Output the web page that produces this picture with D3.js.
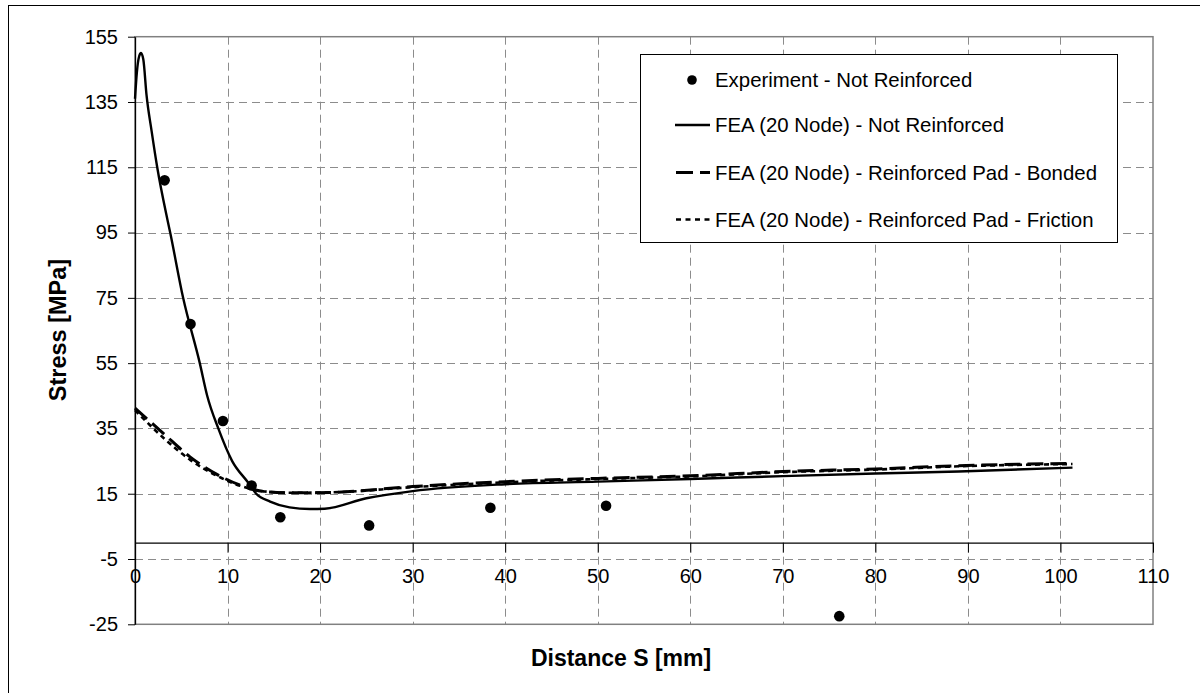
<!DOCTYPE html>
<html>
<head>
<meta charset="utf-8">
<script src="https://cdn.jsdelivr.net/npm/d3@7"></script>
<style>
  html, body { margin: 0; padding: 0; background: #fff; }
  svg { display: block; font-family: "Liberation Sans", Arial, sans-serif; }
</style>
</head>
<body>
<svg id="chart" width="1200" height="693"></svg>
<script>
// Measured stress along distance S from the nozzle edge
const expDistance = [3.2, 6.0, 9.5, 12.6, 15.7, 25.3, 38.4, 50.9, 76.1];
const expStress   = [111, 67, 37.3, 17.5, 7.8, 5.3, 10.7, 11.3, -22.5];

// FEA (20 node) - not reinforced
const feaPlainS      = [0, 0.2, 0.45, 0.65, 0.9, 1.25, 1.8, 2.4, 3.5, 3.8, 5.2, 7.0, 7.8, 9.0, 10.5, 12.2, 13.1, 14.6, 16.7, 18.9, 20.5, 25, 30, 40, 50, 60, 70, 80, 89, 101.3];
const feaPlainStress = [136, 144, 149, 150, 148, 137, 126, 115, 99, 95, 75, 55, 45, 35, 25, 18.5, 15, 12.6, 10.8, 10.3, 10.4, 13.6, 15.8, 17.9, 18.7, 19.5, 20.4, 21.2, 21.8, 23.0];

// FEA (20 node) - reinforced pad, bonded
const feaBondedS      = [0, 3.06, 5.94, 8.8, 11.3, 14.2, 17, 21.1, 30, 40, 50, 60, 70, 80, 89, 101.3];
const feaBondedStress = [41.2, 33.5, 26.3, 21.0, 17.7, 15.6, 15.3, 15.4, 17.2, 18.7, 19.7, 20.5, 21.8, 22.6, 23.6, 24.3];

// FEA (20 node) - reinforced pad, friction
const feaFrictionS      = [0, 3, 6, 9, 11.5, 14, 17, 21, 30, 40, 50, 60, 70, 80, 89, 101.3];
const feaFrictionStress = [40.6, 32.3, 25.3, 20.3, 17.3, 15.7, 15.3, 15.4, 17.0, 18.5, 19.5, 20.3, 21.6, 22.4, 23.4, 24.1];

const xTicks = d3.range(0, 111, 10);
const yTicks = d3.range(-25, 156, 20);

const legendLabels = [
  "Experiment - Not Reinforced",
  "FEA (20 Node) - Not Reinforced",
  "FEA (20 Node) - Reinforced Pad - Bonded",
  "FEA (20 Node) - Reinforced Pad - Friction"
];

const svg = d3.select("#chart");

// outer chart frame
svg.append("rect")
  .attr("x", 8.5).attr("y", 5.5)
  .attr("width", 1210).attr("height", 710)
  .attr("fill", "none").attr("stroke", "#000").attr("stroke-width", 1);

const x = d3.scaleLinear().domain([0, 110]).range([135, 1153]);
const y = d3.scaleLinear().domain([-25, 155]).range([624.3, 36.7]);

// grid
const grid = svg.append("g").attr("stroke", "#8c8c8c").attr("stroke-width", 1)
  .attr("stroke-dasharray", "8,5").attr("fill", "none");
grid.selectAll("line.v").data(xTicks.filter(d => d > 0 && d < 110)).join("line")
  .attr("class", "v")
  .attr("x1", d => Math.round(x(d)) + 0.5).attr("x2", d => Math.round(x(d)) + 0.5)
  .attr("y1", y(155)).attr("y2", y(-25));
grid.selectAll("line.h").data(yTicks.filter(d => d > -25 && d < 155)).join("line")
  .attr("class", "h")
  .attr("y1", d => Math.round(y(d)) + 0.5).attr("y2", d => Math.round(y(d)) + 0.5)
  .attr("x1", x(0)).attr("x2", x(110));

// plot area border
svg.append("rect")
  .attr("x", x(0)).attr("y", y(155))
  .attr("width", x(110) - x(0)).attr("height", y(-25) - y(155))
  .attr("fill", "none").attr("stroke", "#808080").attr("stroke-width", 1.5);

const plainNumber = d => String(d);

// y axis
const yAxis = svg.append("g")
  .attr("transform", `translate(${x(0)},0)`)
  .call(d3.axisLeft(y).tickValues(yTicks).tickSize(7).tickSizeOuter(0).tickPadding(10).tickFormat(plainNumber));
yAxis.select(".domain").attr("stroke", "#000").attr("stroke-width", 1.3);
yAxis.selectAll(".tick line").attr("stroke", "#000").attr("stroke-width", 1);
yAxis.selectAll("text").attr("font-size", 20).attr("fill", "#000")
  .attr("font-family", "Liberation Sans, Arial, sans-serif");

// x axis along stress = 0
const xAxis = svg.append("g")
  .attr("transform", `translate(0,${y(0)})`)
  .call(d3.axisBottom(x).tickValues(xTicks).tickSize(10).tickSizeOuter(0).tickFormat(plainNumber));
xAxis.select(".domain").attr("stroke", "#000").attr("stroke-width", 1.3);
xAxis.selectAll(".tick line").attr("stroke", "#000").attr("stroke-width", 1);
xAxis.selectAll("text").attr("font-size", 20).attr("fill", "#000")
  .attr("font-family", "Liberation Sans, Arial, sans-serif")
  .attr("y", 40.5).attr("dy", 0);

// series
const line = d3.line().x(d => x(d[0])).y(d => y(d[1])).curve(d3.curveMonotoneX);
const zip = (a, b) => a.map((v, i) => [v, b[i]]);

svg.append("path").datum(zip(feaFrictionS, feaFrictionStress))
  .attr("d", line).attr("fill", "none").attr("stroke", "#000")
  .attr("stroke-width", 2.6).attr("stroke-dasharray", "5,4");
svg.append("path").datum(zip(feaBondedS, feaBondedStress))
  .attr("d", line).attr("fill", "none").attr("stroke", "#000")
  .attr("stroke-width", 3).attr("stroke-dasharray", "16,7");
svg.append("path").datum(zip(feaPlainS, feaPlainStress))
  .attr("d", line).attr("fill", "none").attr("stroke", "#000")
  .attr("stroke-width", 2.4);

svg.append("g").selectAll("circle").data(zip(expDistance, expStress)).join("circle")
  .attr("cx", d => x(d[0])).attr("cy", d => y(d[1])).attr("r", 5.3).attr("fill", "#000");

// legend
const lg = svg.append("g");
lg.append("rect").attr("x", 640.5).attr("y", 54.5).attr("width", 477).attr("height", 188)
  .attr("fill", "#fff").attr("stroke", "#000").attr("stroke-width", 1);
const rowY = [80, 125, 172.5, 219.5];
lg.append("circle").attr("cx", 692).attr("cy", rowY[0]).attr("r", 4.8).attr("fill", "#000");
lg.append("line").attr("x1", 675).attr("x2", 710).attr("y1", rowY[1]).attr("y2", rowY[1])
  .attr("stroke", "#000").attr("stroke-width", 2.4);
lg.append("line").attr("x1", 676).attr("x2", 710).attr("y1", rowY[2]).attr("y2", rowY[2])
  .attr("stroke", "#000").attr("stroke-width", 3).attr("stroke-dasharray", "17,7");
lg.append("line").attr("x1", 676).attr("x2", 711).attr("y1", rowY[3]).attr("y2", rowY[3])
  .attr("stroke", "#000").attr("stroke-width", 2.6).attr("stroke-dasharray", "5,4.5");
lg.selectAll("text").data(legendLabels).join("text")
  .attr("x", 715).attr("y", (d, i) => rowY[i]).attr("dy", "0.36em")
  .attr("font-size", 20.4).attr("fill", "#000").text(d => d);

// axis titles
svg.append("text").attr("x", 621).attr("y", 666).attr("text-anchor", "middle")
  .attr("font-size", 23).attr("font-weight", "bold").text("Distance S [mm]");
svg.append("text").attr("transform", "translate(66,330) rotate(-90)")
  .attr("text-anchor", "middle")
  .attr("font-size", 23.5).attr("font-weight", "bold").text("Stress [MPa]");
</script>
</body>
</html>
